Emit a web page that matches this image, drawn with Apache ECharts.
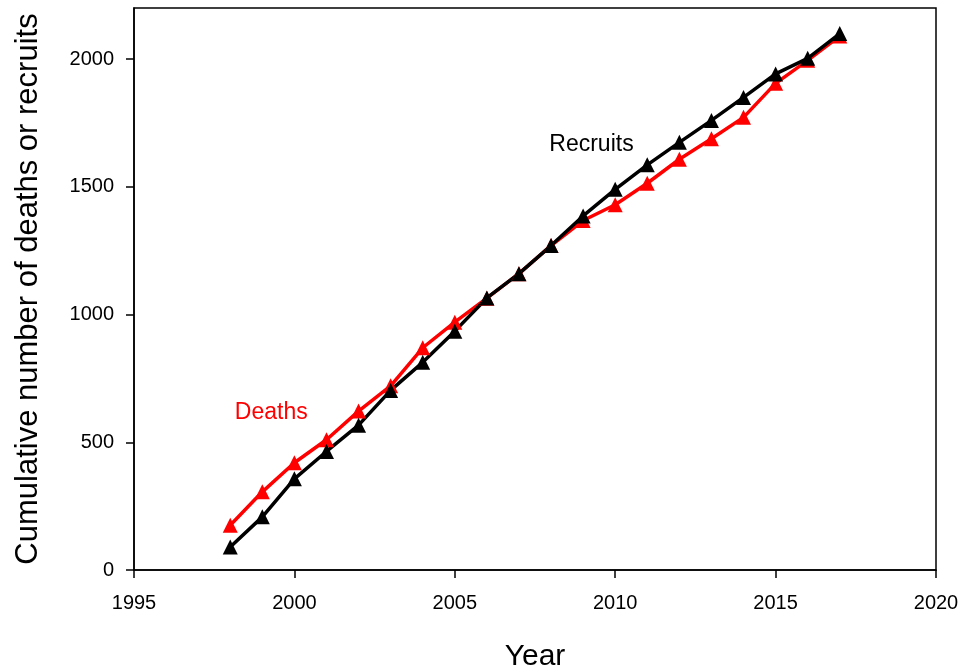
<!DOCTYPE html>
<html>
<head>
<meta charset="utf-8">
<script src="https://cdn.jsdelivr.net/npm/echarts@6/dist/echarts.min.js"></script>
<style>
html,body{margin:0;padding:0;background:#fff;}
#chart{width:974px;height:668px;}
</style>
</head>
<body>
<div id="chart"></div>
<script>
const years = [1998,1999,2000,2001,2002,2003,2004,2005,2006,2007,2008,2009,2010,2011,2012,2013,2014,2015,2016,2017];
const recruits = [90,208,357,464,567,703,813,935,1065,1160,1270,1386,1490,1586,1674,1760,1850,1942,2003,2100];
const deaths = [175,306,420,510,622,721,870,970,1064,1160,1270,1368,1430,1514,1608,1688,1772,1905,1995,2090];
const xTicks = [1995,2000,2005,2010,2015,2020];
const yTicks = [0,500,1000,1500,2000];
const recruitsLabel = {text:'Recruits', x:2009.26, y:1665};
const deathsLabel = {text:'Deaths', x:1999.28, y:616};

const font = 'Liberation Sans, Arial, sans-serif';
const chart = echarts.init(document.getElementById('chart'));

function pairs(xs, ys){ return xs.map((x,i)=>[x, ys[i]]); }
function textMark(lbl, color){
  return {
    silent:true,
    symbol:'circle', symbolSize:1,
    itemStyle:{color:'rgba(0,0,0,0)'},
    label:{show:true, position:'inside', formatter:lbl.text, color:color, fontSize:23, fontFamily:font},
    data:[{coord:[lbl.x, lbl.y]}]
  };
}

chart.setOption({
  animation:false,
  backgroundColor:'#fff',
  grid:{left:134, right:38, top:8, bottom:98, show:true, borderColor:'#000', borderWidth:1.5, containLabel:false, outerBoundsMode:'none'},
  xAxis:{
    type:'value', min:1995, max:2020, interval:5,
    name:'Year', nameLocation:'middle', nameGap:72,
    nameTextStyle:{fontSize:30, color:'#000', fontFamily:font},
    axisLine:{show:true, onZero:false, lineStyle:{color:'#000', width:1.5}},
    axisTick:{show:true, inside:false, length:8, lineStyle:{color:'#000', width:1.5}, customValues:xTicks},
    axisLabel:{color:'#000', fontSize:20, fontFamily:font, margin:23, formatter:v=>String(v), customValues:xTicks},
    splitLine:{show:false}
  },
  yAxis:{
    type:'value', min:0, max:2200, interval:500,
    name:'Cumulative number of deaths or recruits', nameLocation:'middle', nameGap:90, nameRotate:90,
    nameTextStyle:{fontSize:31, color:'#000', fontFamily:font},
    axisLine:{show:true, onZero:false, lineStyle:{color:'#000', width:1.5}},
    axisTick:{show:true, inside:false, length:8, lineStyle:{color:'#000', width:1.5}, customValues:yTicks},
    axisLabel:{color:'#000', fontSize:20, fontFamily:font, margin:20, formatter:v=>String(v), customValues:yTicks},
    splitLine:{show:false}
  },
  series:[
    {
      name:'Deaths', type:'line', data:pairs(years, deaths),
      symbol:'triangle', symbolSize:15, showAllSymbol:true,
      lineStyle:{color:'#ff0000', width:3.5}, itemStyle:{color:'#ff0000'},
      markPoint:textMark(deathsLabel, '#ff0000')
    },
    {
      name:'Recruits', type:'line', data:pairs(years, recruits),
      symbol:'triangle', symbolSize:15, showAllSymbol:true,
      lineStyle:{color:'#000', width:3.5}, itemStyle:{color:'#000'},
      markPoint:textMark(recruitsLabel, '#000')
    }
  ]
});
</script>
</body>
</html>
